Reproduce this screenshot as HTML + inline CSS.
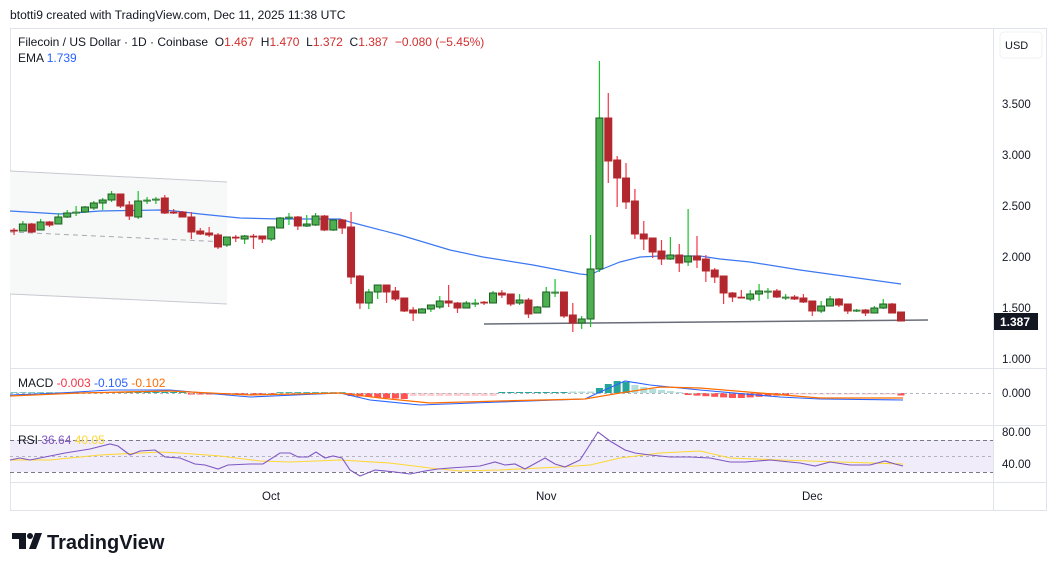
<!DOCTYPE html>
<html><head><meta charset="utf-8"><style>
body{margin:0;background:#fff;width:1057px;height:571px;overflow:hidden;font-family:"Liberation Sans",sans-serif;}
svg{position:absolute;left:0;top:0}
</style></head><body>
<svg width="1057" height="571" xmlns="http://www.w3.org/2000/svg" font-family="Liberation Sans, sans-serif">
<rect width="1057" height="571" fill="#fff"/>
<text x="10" y="19" font-size="12.1" fill="#131722">btotti9 created with TradingView.com, Dec 11, 2025 11:38 UTC</text>
<rect x="10.5" y="28.5" width="1036" height="482" fill="none" stroke="#e0e3eb"/>
<line x1="993.5" y1="28" x2="993.5" y2="510" stroke="#e0e3eb"/>
<line x1="10" y1="368.5" x2="1046" y2="368.5" stroke="#e0e3eb"/>
<line x1="10" y1="425.5" x2="1046" y2="425.5" stroke="#e0e3eb"/>
<line x1="10" y1="482.5" x2="1046" y2="482.5" stroke="#e0e3eb"/>
<rect x="1000" y="32" width="42" height="26" rx="4" fill="#fff" stroke="#eef0f3"/>
<text x="1005" y="49" font-size="11" fill="#131722">USD</text>
<g font-size="11.5" fill="#131722">
<text x="1002" y="108">3.500</text><text x="1002" y="159">3.000</text><text x="1002" y="210">2.500</text>
<text x="1002" y="261">2.000</text><text x="1002" y="312">1.500</text><text x="1002" y="363">1.000</text>
<text x="1002" y="397">0.000</text><text x="1002" y="436">80.00</text><text x="1002" y="468">40.00</text>
<text x="262" y="500">Oct</text><text x="536" y="500">Nov</text><text x="802" y="500">Dec</text>
</g>
<polygon points="10,171 227,182 227,304 10,294" fill="#f7f8f8"/>
<line x1="10" y1="171" x2="227" y2="182" stroke="#c8cad0"/>
<line x1="10" y1="294" x2="227" y2="304" stroke="#c8cad0"/>
<line x1="10" y1="232" x2="227" y2="242" stroke="#a8aab0" stroke-dasharray="5,4"/>
<line x1="484" y1="324" x2="928" y2="320" stroke="#6a6d78" stroke-width="1.5"/>
<polyline fill="none" stroke="#3c78f0" stroke-width="1.2" points="10,211 60,214 100,211 160,210 175,211 200,214 240,218 280,219 340,219 350,222 400,235 450,250 483,257 533,265 580,274 590,275 600,270 620,262 640,257 660,256 690,256 700,256 720,259 750,262 800,270 901,284"/>
<g id="candles"></g>
<g id="hist"></g>
<rect x="994" y="313" width="44" height="17" fill="#131722"/>
<text x="1000" y="326" font-size="12" font-weight="bold" fill="#fff">1.387</text>
<text x="18" y="46" font-size="12" fill="#131722" xml:space="preserve">Filecoin / US Dollar · 1D · Coinbase  O<tspan fill="#d32f2f">1.467</tspan>  H<tspan fill="#d32f2f">1.470</tspan>  L<tspan fill="#d32f2f">1.372</tspan>  C<tspan fill="#d32f2f">1.387</tspan>  <tspan fill="#d32f2f">−0.080 (−5.45%)</tspan></text>
<text x="18" y="62" font-size="12" fill="#131722">EMA <tspan fill="#2962ff">1.739</tspan></text>
<line x1="10" y1="393.5" x2="993" y2="393.5" stroke="#b2b5be" stroke-dasharray="3,3"/>
<polyline fill="none" stroke="#2962ff" stroke-width="1.1" points="10,395 60,393 110,390 170,390 250,397 340,393 370,400 420,405 500,402 585,399 600,392 625,381 650,385 700,390 780,397 820,399 903,400"/>
<polyline fill="none" stroke="#ff6d00" stroke-width="1.3" points="10,396 80,393 170,391 250,395 340,393 380,398 430,403 500,401 585,399 620,393 660,387 700,388 760,393 820,398 903,398"/>
<text x="18" y="387" font-size="12" fill="#131722">MACD <tspan fill="#f23645">-0.003</tspan> <tspan fill="#2962ff">-0.105</tspan> <tspan fill="#ff6d00">-0.102</tspan></text>
<rect x="10" y="440" width="983" height="32" fill="#f0ecf9"/>
<line x1="10" y1="440.5" x2="993" y2="440.5" stroke="#787b86" stroke-dasharray="4,3"/>
<line x1="10" y1="456.5" x2="993" y2="456.5" stroke="#b2b5be" stroke-dasharray="3,3"/>
<line x1="10" y1="472.5" x2="993" y2="472.5" stroke="#787b86" stroke-dasharray="4,3"/>
<polyline fill="none" stroke="#fdd835" stroke-width="1.1" points="10,460 50,460 100,455 160,452 180,453 220,456 260,461 290,462 340,460 390,463 430,468 460,471 500,470 560,467 590,465 620,458 660,453 700,451 730,458 780,460 840,462 903,464"/>
<polyline fill="none" stroke="#7e57c2" stroke-width="1.1" points="10,460 20,458 30,460 45,457 65,453 90,449 110,444 118,446 130,455 140,451 155,450 165,457 180,458 195,464 205,465 218,469 228,465 250,464 263,464 280,453 290,453 298,457 308,457 316,452 325,458 333,456 342,458 350,470 360,476 375,470 395,472 410,474 425,471 438,469 450,468 465,467 480,466 495,462 505,465 515,464 525,469 545,458 555,464 565,467 580,460 598,432 610,441 625,450 635,453 650,455 670,457 690,457 710,458 730,462 745,462 770,460 800,463 815,466 830,462 850,465 870,465 885,461 895,464 903,466"/>
<text x="18" y="444" font-size="12" fill="#131722">RSI <tspan fill="#7e57c2">36.64</tspan> <tspan fill="#fdd835">40.05</tspan></text>
<rect x="12" y="533" width="14" height="6" fill="#131722"/>
<rect x="19" y="533" width="7" height="16" fill="#131722"/>
<circle cx="30" cy="536" r="3" fill="#131722"/>
<polygon points="35,533 42,533 36,549 29,549" fill="#131722"/>
<text x="47" y="549" font-size="20" font-weight="bold" fill="#131722">TradingView</text>
</svg>
<script>
var C=[
[0,'r',230,231,228,235],[1,'g',224,231,221,231],[2,'r',224,232,223,233],[3,'g',222,230,219,230],[4,'r',222,225,221,227],
[5,'g',217,224,213,224],[6,'g',213,217,210,218],[7,'g',212,213,206,216],[8,'g',207,212,206,213],[9,'g',203,208,201,210],
[10,'g',200,203,198,210],[11,'g',194,200,191,202],[12,'r',194,206,194,208],[13,'r',205,216,201,220],[14,'g',201,217,191,219],
[15,'g',200,201,197,204],[16,'g',199,199.5,197,204],[17,'r',198,213,195,214],[18,'r',212,212.5,209,214],[19,'r',212,217,211,217],
[20,'r',217,232,212,239],[21,'r',231,234,228,235],[22,'r',233,235,227,237],[23,'r',235,247,233,249],[24,'g',237,245,237,247],
[25,'r',237,237.5,235,242],[26,'g',236,239,235,244],[27,'r',236,236.5,234,249],[28,'r',236,239,236,243],[29,'g',227,239,227,241],
[30,'g',218,228,217,228],[31,'g',217,217.5,213,225],[32,'r',217,226,216,230],[33,'g',224,226,215,227],[34,'g',216,225,213,226],
[35,'r',216,230,215,231],[36,'g',220,230,220,231],[37,'r',220,228,219,234],[38,'r',227,277,212,284],[39,'r',276,303,275,309],
[40,'g',292,303,289,309],[41,'g',285,292,285,299],[42,'r',285,292,285,303],[43,'r',291,299,287,301],[44,'r',298,311,298,312],
[45,'r',310,313,307,321],[46,'g',309,313,308,313],[47,'g',305,309,305,312],[48,'g',301,307,296,309],[49,'r',301,303,285,307],
[50,'r',303,308,302,313],[51,'g',303,308,301,308],[52,'g',303,303.5,299,307],[53,'r',302,302.5,301,305],[54,'g',293,303,291,303],
[55,'r',293,295,290,298],[56,'r',294,304,294,306],[57,'g',300,303,294,305],[58,'r',300,314,298,318],[59,'g',307,313,306,313],
[60,'g',292,307,287,307],[61,'g',292,292.5,279,297],[62,'r',292,316,292,318],[63,'r',315,323,303,332],[64,'g',319,323,316,329],
[65,'g',269,319,235,327],[66,'g',118,269,61,272],[67,'r',118,161,93,183],[68,'r',160,178,156,207],[69,'r',178,202,163,209],
[70,'r',201,234,189,239],[71,'r',234,239,221,250],[72,'r',238,252,238,258],[73,'r',251,259,240,265],[74,'g',255,259,237,260],
[75,'r',255,263,244,272],[76,'g',256,262,209,266],[77,'r',256,260,236,268],[78,'r',259,271,255,282],[79,'r',270,277,268,283],
[80,'r',276,293,276,304],[81,'r',293,297,292,302],[82,'r',297,297.5,290,298],[83,'g',294,299,290,301],[84,'g',291,294,284,301],
[85,'g',291,291.5,288,299],[86,'r',291,297,289,298],[87,'g',297,297.5,294,300],[88,'r',297,299,295,300],[89,'r',298,302,294,303],
[90,'r',301,311,301,316],[91,'g',306,311,301,313],[92,'g',299,306,296,306],[93,'r',299,305,298,307],[94,'r',304,311,304,314],
[95,'g',310,310.5,309,312],[96,'r',310,313,309,316],[97,'g',308,313,306,313],[98,'g',304,308,299,309],[99,'r',304,313,303,313],
[100,'r',312,321,312,321]];
var s='';
C.forEach(function(c){var x=14+c[0]*8.87,g=c[1]=='g';
var bh=Math.max(c[3]-c[2],1.2);
s+='<line x1="'+x+'" y1="'+c[4]+'" x2="'+x+'" y2="'+c[5]+'" stroke="'+(g?'#16c42a':'#f23645')+'" stroke-width="1.2"/>';
s+='<rect x="'+(x-3.5)+'" y="'+c[2]+'" width="7" height="'+bh+'" fill="'+(g?'#4caf50':'#b2282e')+'" stroke="'+(g?'#1b5e20':'#b2282e')+'" stroke-width="'+(bh<2?0.6:1)+'"/>';});
document.getElementById('candles').innerHTML=s;
var h='';
for(var i=0;i<101;i++){var x=14+i*8.87,v,col;
if(i<10){v=0.6;col='#26a69a';}else if(i<20){v=1;col='#26a69a';}else if(i<30){v=-1.5;col='#ff5252';}else if(i<38){v=0.8;col='#26a69a';}
else if(i<45){v=-(3+(i-38)*0.5);col='#ff5252';}else if(i<55){v=-3;col='#ffcdd2';}else if(i<63){v=1;col='#26a69a';}
else if(i<66){v=1.5;col='#b2dfdb';}else if(i<70){v=[5,9,12,11][i-66];col='#26a69a';}else if(i<76){v=[8,6,4,3,2,1][i-70];col='#b2dfdb';}
else if(i<88){v=-(2+Math.min(i-76,11-(i-76))*0.6);col='#ff5252';}else if(i<100){v=-1.5;col='#ffcdd2';}else{v=-2.5;col='#ff5252';}
var y=v>0?393-v:393,hh=Math.abs(v);
h+='<rect x="'+(x-3.5)+'" y="'+y+'" width="7" height="'+hh+'" fill="'+col+'"/>';}
document.getElementById('hist').innerHTML=h;
</script>
</body></html>
